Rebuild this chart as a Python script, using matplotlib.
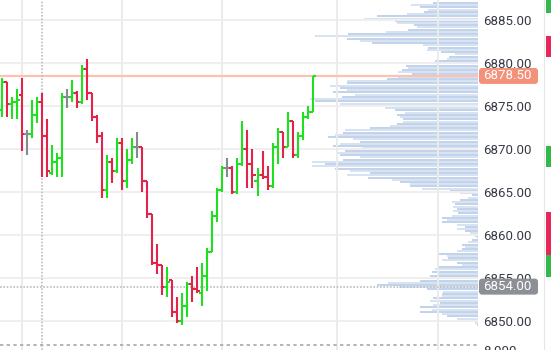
import matplotlib
matplotlib.use("Agg")
import matplotlib.pyplot as plt
import numpy as np
from matplotlib.patches import FancyBboxPatch, Rectangle
from matplotlib.lines import Line2D

# ---------------- data ----------------
opens = [6874.5, 6877.75, 6875.25, 6875.5, 6876.25, 6871.75, 6871.75, 6874.0, 6875.5, 6871.5,
         6867.25, 6868.5, 6869.0, 6876.0, 6876.0, 6876.5, 6875.5, 6879.25, 6876.5, 6873.75,
         6871.5, 6865.25, 6868.5, 6867.5, 6870.75, 6866.25, 6868.75, 6870.25, 6870.25, 6866.25,
         6862.5, 6856.75, 6856.5, 6854.0, 6854.75, 6851.0, 6850.0, 6851.75, 6854.25, 6853.75,
         6853.25, 6855.25, 6858.0, 6862.25, 6865.25, 6867.75, 6867.75, 6865.0, 6868.25, 6870.0,
         6868.25, 6866.25, 6867.0, 6866.75, 6865.75, 6870.25, 6872.0, 6870.25, 6873.25, 6869.25,
         6871.5, 6873.75, 6874.25]
highs = [6878.25, 6877.75, 6876.0, 6877.0, 6878.25, 6872.25, 6875.75, 6876.0, 6876.5, 6873.5,
         6870.5, 6869.5, 6876.5, 6877.0, 6878.0, 6876.75, 6879.75, 6880.5, 6876.5, 6874.0,
         6872.0, 6869.25, 6869.0, 6871.25, 6871.25, 6870.0, 6871.25, 6872.0, 6870.25, 6866.25,
         6862.5, 6859.0, 6856.5, 6856.25, 6854.75, 6852.75, 6853.25, 6854.5, 6855.25, 6856.25,
         6856.75, 6858.5, 6862.75, 6865.5, 6868.0, 6869.0, 6868.0, 6869.0, 6873.25, 6872.25,
         6870.0, 6867.75, 6869.75, 6868.0, 6870.75, 6872.5, 6872.0, 6874.25, 6873.25, 6872.0,
         6874.25, 6875.0, 6878.5]
lows = [6873.75, 6873.75, 6873.5, 6873.5, 6869.75, 6869.25, 6871.25, 6873.0, 6866.75, 6866.75,
        6867.0, 6866.75, 6866.75, 6874.75, 6875.5, 6874.75, 6875.25, 6875.75, 6873.25, 6870.75,
        6864.25, 6864.25, 6866.0, 6867.25, 6865.25, 6865.5, 6868.25, 6869.0, 6865.0, 6862.0,
        6856.5, 6855.5, 6853.0, 6852.75, 6850.5, 6849.75, 6849.5, 6850.5, 6852.25, 6853.25,
        6851.75, 6853.5, 6858.0, 6861.5, 6865.0, 6866.75, 6864.75, 6864.75, 6868.0, 6865.5,
        6865.5, 6864.5, 6866.5, 6865.25, 6865.5, 6868.25, 6869.0, 6870.25, 6869.0, 6869.0,
        6871.0, 6873.5, 6874.25]
closes = [6877.75, 6875.25, 6875.5, 6875.75, 6871.75, 6871.75, 6874.0, 6875.5, 6871.5, 6867.5,
          6868.5, 6869.0, 6876.0, 6876.0, 6876.5, 6875.5, 6879.25, 6876.5, 6873.75, 6871.5,
          6865.25, 6868.5, 6867.5, 6870.75, 6866.25, 6868.75, 6870.25, 6870.25, 6866.25, 6862.5,
          6856.75, 6856.5, 6854.0, 6854.5, 6851.0, 6850.0, 6851.75, 6854.25, 6853.75, 6853.5,
          6855.25, 6858.0, 6862.25, 6865.25, 6867.75, 6867.75, 6865.0, 6868.25, 6870.0, 6868.25,
          6867.0, 6867.0, 6866.75, 6865.75, 6870.25, 6872.0, 6870.25, 6873.25, 6869.25, 6871.5,
          6873.75, 6874.25, 6878.5]

# volume profile (top -> bottom), price range of profile
profile_top = 6887.0
profile_bottom = 6849.5
profile_volume = [45, 67, 58, 50, 54, 71, 101, 114, 83, 81,
                  64, 61, 70, 92, 130, 163, 131, 118, 106, 55,
                  50, 51, 37, 23, 29, 31, 43, 61, 72, 70,
                  76, 80, 66, 80, 91, 131, 131, 148, 138, 131,
                  145, 123, 136, 168, 163, 138, 88, 93, 83, 73,
                  81, 78, 75, 75, 81, 88, 108, 133, 135, 143,
                  150, 125, 118, 138, 145, 116, 133, 140, 138, 118,
                  135, 166, 153, 166, 143, 128, 108, 131, 110, 86,
                  78, 68, 68, 56, 28, 18, 6, 10, 18, 26,
                  23, 25, 21, 25, 20, 26, 36, 31, 36, 21,
                  13, 21, 13, 8, 3, 1, 6, 10, 16, 13,
                  16, 21, 40, 31, 30, 36, 21, 16, 41, 43,
                  46, 41, 48, 58, 58, 90, 101, 79, 51, 35,
                  36, 36, 45, 48, 38, 45, 58, 46, 58, 36,
                  31, 21, 18, 3, 1]

price_ticks = [6850, 6855, 6860, 6865, 6870, 6875, 6880, 6885]
time_grid = [4, 24, 44, 66.8, 87]
last_price = 6878.50
cursor_price = 6854.00
cursor_bar = 8
bottom_label = "8.000"

# ---------------- figure ----------------
W, H = 551, 350
fig = plt.figure(figsize=(W / 100, H / 100), dpi=100)
fig.patch.set_facecolor("white")
plot_w = 478 / W

ax = fig.add_axes([0, 0, plot_w, 1])
ax2 = ax.twiny()
ax.set_zorder(2)
ax2.set_zorder(1)
ax.patch.set_visible(False)

ylo, yhi = 6846.63, 6887.33
ax.set_ylim(ylo, yhi)
ax.set_xlim(-0.34, 94.96)

for s in ax.spines.values():
    s.set_visible(False)
for s in ax2.spines.values():
    s.set_visible(False)

# grid
for p in price_ticks:
    ax.axhline(p, color="#efefef", lw=1.4, zorder=0)
for t in time_grid:
    ax.axvline(t, color="#ebebeb", lw=1.4, zorder=0)

# volume profile
levels = np.linspace(profile_top, profile_bottom, len(profile_volume))
pcolors = ["#c3d3ec" if i % 2 == 0 else "#d8e3f2" for i in range(len(profile_volume))]
ax2.barh(levels, profile_volume, height=0.235, left=0, color=pcolors, linewidth=0)
ax2.set_xlim(478, 0)
ax2.set_xticks([])
ax2.set_ylim(ylo, yhi)

# price line & crosshair
ax.axhline(last_price, color="#fbc2b2", lw=1.6, zorder=1)
ax.axvline(cursor_bar, color="#bdbdbd", lw=1.2, ls=(0, (1, 1)), zorder=1)
ax.axhline(cursor_price, color="#bdbdbd", lw=1.2, ls=(0, (1, 1)), zorder=1)
ax.axhline(6847.2, color="#a8a8a8", lw=1.2, ls=(0, (2, 2)), zorder=1)

# OHLC bars
up, dn, eq = "#1fe01f", "#e3234a", "#868a90"
lw = 1.5
for i, (o, h, l, c) in enumerate(zip(opens, highs, lows, closes)):
    col = up if c > o else (dn if c < o else eq)
    ax.vlines(i, l, h, color=col, lw=lw, zorder=3, capstyle="butt")
    ax.hlines(o, i - 0.6, i, color=col, lw=lw, zorder=3)
    ax.hlines(c, i, i + 0.6, color=col, lw=lw, zorder=3)

# right axis labels
ax.yaxis.tick_right()
ax.set_yticks(price_ticks)
ax.set_yticklabels([f"{p:.2f}" for p in price_ticks], fontfamily="Roboto",
                   fontsize=9.5, color="#363a45")
ax.tick_params(axis="y", length=0, pad=3.6)
ax.set_xticks([])

# price boxes
def ypix(price):
    return (price - ylo) / (yhi - ylo) * H

for price, fc in [(last_price, "#f4917b"), (cursor_price, "#8c9096")]:
    yc = ypix(price)
    box = FancyBboxPatch((479 / 100, (yc - 8) / 100), 59 / 100, 16 / 100,
                         boxstyle="round,pad=0,rounding_size=0.03",
                         transform=fig.dpi_scale_trans, fc=fc, ec="none", zorder=5)
    fig.add_artist(box)
    fig.text(483 / W, yc / H, f"{price:.2f}", color="white", fontfamily="Roboto",
             fontsize=9.5, va="center", ha="left", zorder=6)

fig.text(483 / W, 5 / H, bottom_label, color="#363a45", fontfamily="Roboto",
         fontsize=9.5, va="top", ha="left")

# separator and right status strip
fig.add_artist(Line2D([544 / W, 544 / W], [0, 1], color="#e6e6e6", lw=0.8,
                      transform=fig.transFigure))
for (y0, y1, col) in [(0, 13, "#33b84a"), (36, 57, "#e8265a"), (146, 167, "#33b84a"),
                      (212, 255, "#e8265a"), (255, 277, "#33b84a")]:
    fig.add_artist(Rectangle((546 / W, 1 - y1 / H), 5 / W, (y1 - y0) / H,
                             transform=fig.transFigure, fc=col, ec="none"))

fig.savefig("out.png", dpi=100, facecolor="white")
